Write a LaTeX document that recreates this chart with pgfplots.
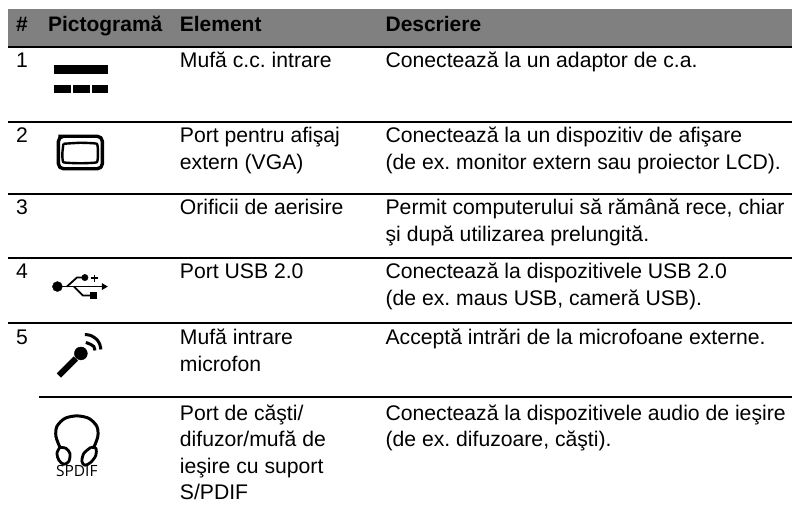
\documentclass[border=0pt]{standalone}
\usepackage{pgfplots}
\pgfplotsset{compat=1.18}
\usepackage{fontspec}
\setmainfont{Liberation Sans}
\newfontfamily\iconfont{Open Sans}
\frenchspacing
\newcommand{\T}[3]{\node[anchor=base west,inner sep=0pt,font=\fontsize{21.2}{25}\selectfont] at (axis cs:#1,#2) {#3};}
\newcommand{\B}[3]{\node[anchor=base west,inner sep=0pt,font=\fontsize{21}{25}\selectfont\bfseries] at (axis cs:#1,#2) {#3};}
\begin{document}
\begin{tikzpicture}
\begin{axis}[
  hide axis, scale only axis, width=793pt, height=510pt,
  xmin=0, xmax=793, ymin=0, ymax=510, y dir=reverse, clip=false,
  every axis plot/.append style={line join=round}]
% header band
\addplot[draw=none, fill={rgb,255:red,128;green,128;blue,128}] coordinates {(8,9) (793,9) (793,46) (8,46)} -- cycle;
% rules
\addplot[black, line width=2.4pt] coordinates {(8,47) (793,47)};
\addplot[black, line width=2pt] coordinates {(8,122) (793,122)};
\addplot[black, line width=2pt] coordinates {(8,194) (793,194)};
\addplot[black, line width=2pt] coordinates {(8,258) (793,258)};
\addplot[black, line width=2pt] coordinates {(8,323) (793,323)};
\addplot[black, line width=2pt] coordinates {(39,398) (793,398)};
% icon 1: DC
\addplot[draw=none, fill=black] coordinates {(54,65) (108,65) (108,74) (54,74)} -- cycle;
\addplot[draw=none, fill=black] coordinates {(54,85) (71,85) (71,93) (54,93)} -- cycle;
\addplot[draw=none, fill=black] coordinates {(73,85) (90,85) (90,93) (73,93)} -- cycle;
\addplot[draw=none, fill=black] coordinates {(92,85) (108,85) (108,93) (92,93)} -- cycle;
% icon 2: VGA
\addplot[black, line width=3.4pt, rounded corners=5pt] coordinates {(58.5,136.5) (102.5,136.5) (102.5,169) (58.5,169) (58.5,136.5) (70,136.5)};
\addplot[black, line width=2.4pt, smooth, tension=0.25] coordinates {(63.5,144) (80.5,143) (97,144) (98,153) (97,162.5) (80.5,163.5) (63.5,162.5) (62.5,153) (63.5,144)};
% icon 4: USB
\addplot[black, only marks, mark=*, mark size=5pt] coordinates {(57.5,287)};
\addplot[black, line width=1.8pt] coordinates {(57,287) (104,287)};
\addplot[draw=none, fill=black] coordinates {(102,283.5) (108,287) (102,290.5)} -- cycle;
\addplot[black, line width=1.8pt] coordinates {(67,287) (77,278) (84,278)};
\addplot[black, only marks, mark=*, mark size=3.2pt] coordinates {(85,278)};
\addplot[black, line width=1.8pt] coordinates {(91.5,278.5) (98,278.5)};
\addplot[black, line width=1.8pt] coordinates {(94.7,275) (94.7,282)};
\addplot[black, line width=1.8pt] coordinates {(74,287) (83,296) (92,296)};
\addplot[draw=none, fill=black] coordinates {(90,292.5) (97,292.5) (97,299) (90,299)} -- cycle;
% icon 5: microphone
\addplot[black, line width=6pt] coordinates {(59,376) (76,359)};
\addplot[black, only marks, mark=*, mark size=6.5pt] coordinates {(81,354)};
\addplot[black, line width=3pt, smooth] coordinates {(86,343) (91,345) (94,347) (95,351)};
\addplot[black, line width=3pt, smooth] coordinates {(85,335) (91,336) (97,340) (100,345) (101,350)};
% icon 6: headphones
\addplot[black, line width=3pt, smooth] coordinates {(60,448) (56,437) (57,427) (65,419) (77,416.5) (89,419) (97,427) (98,437) (94,448)};
\addplot[black, line width=2.8pt, smooth] coordinates {(60,448) (66,449) (70,454) (69,462) (64,465) (59,461) (57,454) (60,448)};
\addplot[black, line width=2.8pt, smooth] coordinates {(91,448) (96,449) (96,456) (91,463) (85,466) (82,462) (84,454) (91,448)};
\node[anchor=base west,inner sep=0pt,font=\iconfont\fontsize{15.5}{17}\selectfont] at (axis cs:56,477) {SPDIF};
% header
\B{16}{32}{\#}
\B{48}{32}{Pictogramă}
\B{180}{32}{Element}
\B{386}{32}{Descriere}
% col 1
\T{16}{68}{1}
\T{16}{143}{2}
\T{16}{215}{3}
\T{16}{279}{4}
\T{16}{345.5}{5}
% col 3
\T{180}{68}{Mufă c.c. intrare}
\T{180}{143}{Port pentru afişaj}
\T{180}{169.5}{extern (VGA)}
\T{180}{215}{Orificii de aerisire}
\T{180}{279}{Port USB 2.0}
\T{180}{345.5}{Mufă intrare}
\T{180}{372}{microfon}
\T{180}{421}{Port de căşti/}
\T{180}{447.5}{difuzor/mufă de}
\T{180}{474}{ieşire cu suport}
\T{180}{500}{S/PDIF}
% col 4
\T{386}{68}{Conectează la un adaptor de c.a.}
\T{386}{143}{Conectează la un dispozitiv de afişare}
\T{386}{169.5}{(de ex. monitor extern sau proiector LCD).}
\T{386}{215}{Permit computerului să rămână rece, chiar}
\T{386}{241.5}{şi după utilizarea prelungită.}
\T{386}{279}{Conectează la dispozitivele USB 2.0}
\T{386}{305.5}{(de ex. maus USB, cameră USB).}
\T{386}{345.5}{Acceptă intrări de la microfoane externe.}
\T{386}{421}{Conectează la dispozitivele audio de ieşire}
\T{386}{447.5}{(de ex. difuzoare, căşti).}
\path[use as bounding box] (axis cs:0,0) rectangle (axis cs:793,510);
\end{axis}
\end{tikzpicture}
\end{document}
